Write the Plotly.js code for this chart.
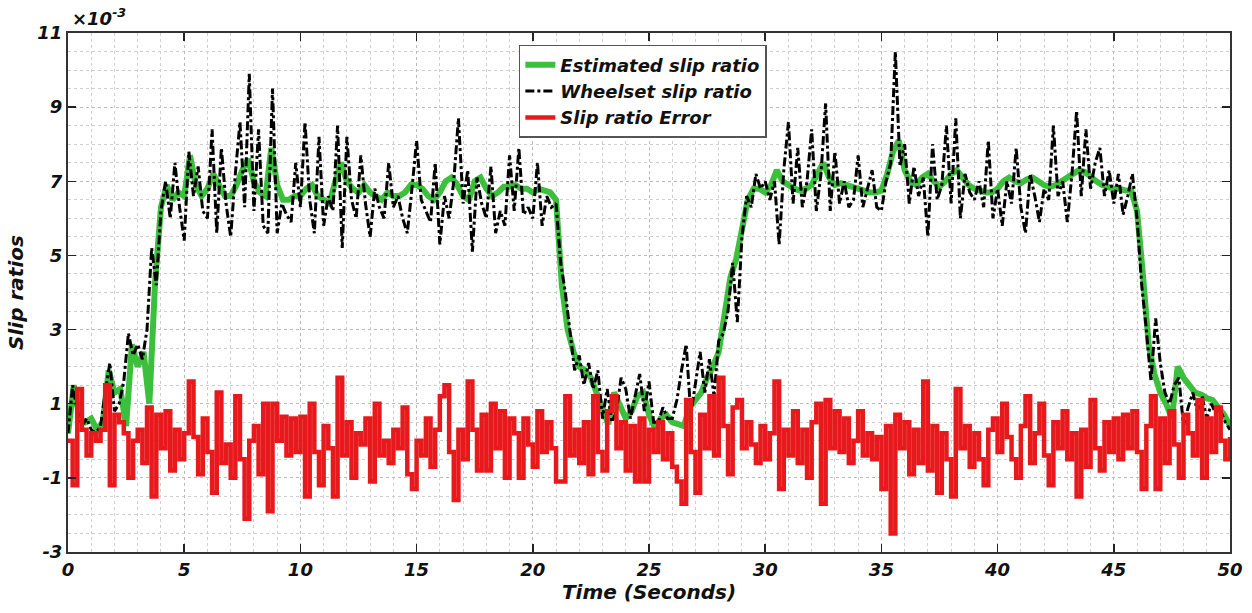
<!DOCTYPE html>
<html><head><meta charset="utf-8">
<script src="https://cdn.plot.ly/plotly-3.0.1.min.js"></script>
<style>body{margin:0;background:#fff}#chart{width:1252px;height:613px}</style>
</head><body><div id="chart"></div>
<script>
// Estimated slip ratio (x1e-3), sampled every 0.25 s from 0 to 50 s
const estT0 = 0, estDt = 0.25;
const estimated = [
0.2,1.5,0.6,0.5, 0.6,0.3,0.5,1.9, 1.3,1.4,0.4,2.6, 2.0,2.4,1.0,4.3,
6.3,6.9,6.5,6.7, 6.6,7.7,6.9,6.6, 6.8,7.2,6.9,6.6, 6.6,6.9,7.3,7.6,
7.0,6.7,6.6,7.9, 6.9,6.5,6.5,6.6, 6.6,6.8,6.9,6.6, 6.5,6.4,7.0,7.5,
7.0,6.8,6.7,6.9, 6.7,6.6,6.5,6.7, 6.6,6.6,6.7,6.9, 6.9,6.8,6.6,6.5,
6.7,7.0,7.1,6.9, 6.6,6.5,7.0,7.1, 6.8,6.6,6.7,6.85, 6.85,6.9,6.8,6.8,
6.7,6.8,6.75,6.7, 6.5,4.2,3.0,2.4, 2.0,1.9,1.7,1.3, 0.9,0.45,1.3,0.9,
0.6,0.8,1.2,1.3, 0.7,0.35,0.6,0.7, 0.5,0.45,0.4,0.9, 1.1,1.3,1.7,2.0,
2.4,3.5,4.4,4.9, 5.8,6.5,6.8,6.8, 6.7,6.9,7.3,7.0, 6.9,6.8,6.75,6.8,
6.9,7.2,7.5,7.1, 6.9,6.95,6.9,6.85, 6.8,6.75,6.7,6.7, 6.75,7.2,7.8,8.1,
7.3,7.0,6.9,7.1, 7.2,7.0,6.85,7.0, 7.2,7.3,7.1,6.9, 6.8,6.75,6.7,6.7,
6.8,7.0,7.1,7.0, 6.95,7.05,7.1,7.0, 6.9,6.85,6.9,7.0, 7.1,7.2,7.3,7.25,
7.1,7.0,6.9,6.85, 6.8,6.8,6.75,6.75, 6.2,4.5,2.6,1.8, 1.3,1.0,0.6,2.0,
1.7,1.5,1.3,1.25, 1.15,1.1,0.9,0.7, 0.4
];
// Wheelset slip ratio (x1e-3), sampled every 0.2 s from 0 to 50 s
const measT0 = 0, measDt = 0.2;
const wheelset = [
0.2,1.5,0.8,0.4,0.6, 0.3,0.2,0.4,1.3,2.1, 0.8,1.0,1.6,2.9,2.3, 2.6,2.2,3.0,5.2,4.2,
6.2,7.0,6.0,7.5,6.3, 5.4,7.8,6.6,7.4,6.2, 6.0,8.4,5.6,7.9,6.4, 5.5,7.2,8.6,6.3,9.9,
6.2,8.4,5.8,5.6,9.5, 5.6,6.4,6.1,5.9,7.5, 6.3,8.6,6.5,5.6,8.2, 5.8,6.6,6.2,8.5,5.2,
8.2,6.5,6.0,7.7,6.4, 5.5,6.8,6.3,6.0,7.5, 6.3,6.6,6.0,5.6,6.8, 8.1,6.5,6.2,5.9,7.5,
5.3,6.6,6.0,7.0,8.7, 6.4,7.3,5.1,7.1,6.4, 6.0,7.4,5.6,6.2,5.8, 7.7,6.2,7.9,6.1,6.3,
6.0,7.5,5.8,6.6,6.3, 6.4,4.8,4.0,3.0,1.9, 2.3,1.5,2.1,1.4,1.9, 0.6,1.4,0.5,0.8,1.7,
1.4,0.6,1.2,1.8,0.8, 1.6,0.5,0.5,0.9,0.6, 0.6,1.1,1.9,2.6,0.7, 1.6,2.4,1.3,2.2,1.2,
2.7,2.9,3.5,4.8,3.2, 5.5,6.6,6.3,7.2,6.8, 7.0,6.5,7.0,5.3,7.3, 8.6,6.4,7.9,6.3,7.0,
8.4,6.2,7.2,9.1,6.2, 7.8,6.4,7.0,6.3,6.5, 7.7,6.3,6.8,7.3,6.3, 6.2,7.0,7.5,10.5,7.4,
8.0,6.4,7.4,6.6,7.1, 5.5,8.0,6.5,6.9,8.5, 6.4,8.7,6.0,7.2,6.7, 6.5,7.0,6.3,8.1,6.0,
6.8,5.8,7.0,6.4,7.9, 6.3,5.6,7.2,6.6,5.9, 6.8,6.5,8.5,6.6,7.0, 5.9,7.2,8.9,6.6,8.4,
6.8,7.5,7.9,6.6,7.3, 6.4,7.2,6.1,6.6,7.2, 6.0,4.2,3.0,1.6,3.3, 2.1,1.3,1.0,1.5,1.7,
0.4,0.9,1.3,0.8,1.2, 0.6,1.0,0.7,0.8,0.5, 0.3
];
// Slip ratio error (x1e-3), sampled every 0.2 s from 0 to 50 s
const slipError = [
0.0,-1.2,1.4,0.3,-0.4, 0.2,0.0,0.3,1.5,-1.2, 0.7,0.5,0.2,-1.0,0.0, 0.3,-0.6,0.9,-1.5,0.7,
-0.2,0.8,-0.8,0.3,-0.5, 0.2,1.6,0.1,-0.9,0.6, -0.3,-1.4,1.3,-0.6,-0.1, -1.0,1.2,-0.5,-2.1,0.0,
0.4,-0.9,1.0,-1.9,1.0, 0.0,0.65,-0.4,0.6,-0.3, 0.65,-1.5,1.0,-0.3,-1.2, 0.4,-0.2,-1.5,1.7,-0.4,
0.5,-1.0,0.2,-0.1,0.6, -1.1,1.0,-0.4,0.0,-0.6, 0.3,-0.2,0.9,-0.9,-1.3, 0.0,-0.4,0.6,-0.7,0.3,
1.2,1.5,-0.3,-1.6,0.3, -0.5,1.6,0.3,-0.8,0.7, -0.8,1.0,-0.2,0.8,-1.0, 0.6,0.2,-1.0,0.6,-0.1,
-0.7,0.8,-0.3,0.5,-0.2, -1.1,-1.1,1.2,-0.4,0.3, -0.6,0.5,-0.9,1.2,-0.3, -0.8,0.8,1.2,-0.2,0.5,
-0.8,0.4,-1.1,0.6,-1.1, 0.3,-0.3,0.5,-0.5,0.2, -0.7,-1.1,-1.7,1.1,-0.3, -1.4,0.7,-0.2,1.2,-0.4,
1.7,0.4,-0.9,0.9,1.1, -0.2,0.5,-0.1,-0.6,0.4, -0.5,0.2,1.6,-1.3,0.3, -0.4,0.8,-0.6,0.3,-1.0,
0.5,1.0,-1.7,1.1,-0.2, 0.8,-0.3,0.6,-0.6,0.0, 0.8,-0.4,0.2,-0.5,0.1, -1.3,0.4,-2.5,0.7,-0.2,
0.5,-0.9,0.3,-0.6,1.6, -0.8,0.4,-1.4,0.2,-0.5, -1.5,1.4,-0.2,0.4,-0.7, 0.2,-0.5,-1.2,0.3,0.6,
-0.3,1.0,0.1,-0.5,-1.0, 0.4,1.2,-0.6,0.2,1.0, -0.4,-1.2,0.5,-0.2,0.8, -0.5,0.2,-1.5,0.3,-0.7,
1.1,-0.2,-0.8,0.5,-0.3, 0.6,-0.5,0.7,-0.2,0.8, -0.3,-1.3,0.4,1.2,-1.3, 0.6,-0.6,0.8,-0.1,-1.0,
0.7,0.2,-0.4,1.1,-1.0, 0.6,-0.3,0.9,0.0,-0.5, 0.1
];
const legendNames = ['Estimated slip ratio','Wheelset slip ratio','Slip ratio Error'];
const xTickVals = [0,5,10,15,20,25,30,35,40,45,50];
const yTickVals = [-3,-1,1,3,5,7,9,11];
const yTickText = ['-3','-1','1','3','5','7','9','11'];

const estTime = estimated.map((_, i) => +(estT0 + i*estDt).toFixed(3));
const measTime = wheelset.map((_, i) => +(measT0 + i*measDt).toFixed(3));

const FONT = 'DejaVu Sans, Liberation Sans, sans-serif';
const traces = [
  {x: estTime, y: estimated, name: legendNames[0], type: 'scatter', mode: 'lines',
   line: {color: '#3cbf3c', width: 6}},
  {x: measTime, y: wheelset, name: legendNames[1], type: 'scatter', mode: 'lines',
   line: {color: '#000000', width: 3, dash: 'dashdot'}},
  {x: measTime, y: slipError, name: legendNames[2], type: 'scatter', mode: 'lines',
   line: {color: '#e8191c', width: 4.5, shape: 'hv'}}
];
const tickFont = {family: FONT, size: 18, color: '#111', weight: 'bold', style: 'italic'};
const titleFont = {family: FONT, size: 20, color: '#111', weight: 'bold', style: 'italic'};
const layout = {
  width: 1252, height: 613,
  margin: {l: 68, r: 22, t: 33, b: 61},
  paper_bgcolor: '#fff', plot_bgcolor: '#fff',
  showlegend: true,
  legend: {x: 0.388, y: 0.977, xanchor: 'left', yanchor: 'top', bgcolor: '#fff',
    bordercolor: '#555', borderwidth: 1.5, tracegroupgap: 0,
    font: {family: FONT, size: 18, color: '#111', weight: 'bold', style: 'italic'}},
  xaxis: {range: [0, 50], tickvals: xTickVals, ticks: 'inside', ticklen: 8, tickwidth: 1.5,
    tickcolor: '#222', mirror: 'ticks', showline: true, linecolor: '#333', linewidth: 2,
    zeroline: false, showgrid: true, gridcolor: '#bbb', griddash: 'dot', gridwidth: 1,
    minor: {dtick: 1, tick0: 0, showgrid: true, gridcolor: '#cfcfcf', griddash: 'dot', gridwidth: 1},
    tickfont: tickFont,
    title: {text: 'Time (Seconds)', standoff: 6, font: titleFont}},
  yaxis: {range: [-3, 11], tickvals: yTickVals, ticktext: yTickText, ticks: 'inside', ticklen: 8, tickwidth: 1.5,
    tickcolor: '#222', mirror: 'ticks', showline: true, linecolor: '#333', linewidth: 2,
    zeroline: false, showgrid: true, gridcolor: '#bbb', griddash: 'dot', gridwidth: 1,
    minor: {dtick: 0.5, tick0: -3, showgrid: true, gridcolor: '#cfcfcf', griddash: 'dot', gridwidth: 1},
    tickfont: tickFont,
    title: {text: 'Slip ratios', standoff: 8, font: titleFont}},
  annotations: [{xref: 'paper', yref: 'paper', x: 0, y: 1, xanchor: 'left', yanchor: 'bottom',
    xshift: 2, yshift: 2, showarrow: false, text: '×10<sup>-3</sup>',
    font: {family: FONT, size: 18, color: '#111', weight: 'bold', style: 'italic'}}]
};
Plotly.newPlot('chart', traces, layout, {displayModeBar: false, staticPlot: true});
</script></body></html>
